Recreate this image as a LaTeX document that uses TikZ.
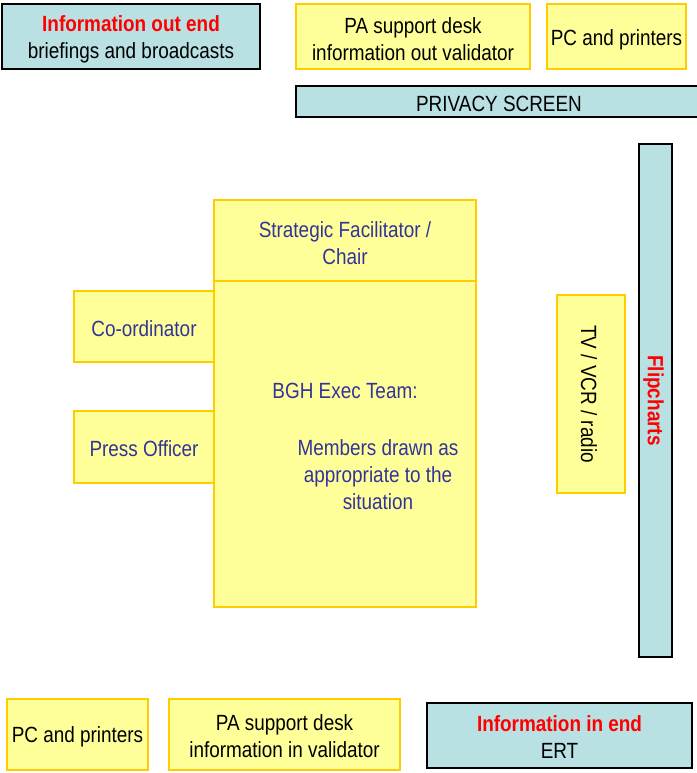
\documentclass[tikz,border=0pt]{standalone}
\usepackage{fontspec}
\setmainfont[FakeStretch=0.86]{Liberation Sans}
\begin{document}
\begin{tikzpicture}[x=1pt,y=-1pt,
  fs/.style={font=\fontsize{22}{27}\selectfont},
  tx/.style={fs,align=center,inner sep=0pt},
  yel/.style={draw={rgb,255:red,255;green,204;blue,0},fill={rgb,255:red,255;green,255;blue,153},line width=2.2pt,inner sep=0pt,outer sep=0pt},
  blu/.style={draw=black,fill={rgb,255:red,185;green,224;blue,227},line width=2.2pt,inner sep=0pt,outer sep=0pt},
  redt/.style={text={rgb,255:red,255;green,0;blue,0}},
  bluet/.style={text={rgb,255:red,51;green,51;blue,153}}]
\useasboundingbox (0,0) rectangle (696,773);
% top row
\node[blu,minimum width=258,minimum height=65] (outend) at (131,36.5) {};
\node[tx] (outendt) at ([yshift=-3]outend.center) {\textcolor{red}{\bfseries Information out end}\\briefings and broadcasts};
\node[yel,minimum width=234,minimum height=65] (pa1) at (413,36.5) {};
\node[tx] (pa1t) at ([yshift=-3]pa1.center) {PA support desk\\information out validator};
\node[yel,minimum width=139,minimum height=65] (pc1) at (616.5,36.5) {};
\node[tx] (pc1t) at ([yshift=-3]pc1.center) {PC and printers};
\node[blu,minimum width=402,minimum height=31,anchor=west] (priv) at (296,101.5) {};
\node[tx] (privt) at ([xshift=2,yshift=-2]priv.center) {PRIVACY SCREEN};
% right side
\node[blu,minimum width=33,minimum height=513] (flip) at (655.5,400.5) {};
\node[rotate=-90,redt,inner sep=0pt,font={\fontsize{22}{27}\selectfont\bfseries}] (fliptxt) at ([xshift=-2]flip.center) {Flipcharts};
\node[yel,minimum width=68,minimum height=198] (tv) at (591,394) {};
\node[rotate=-90,tx] (tvtxt) at ([xshift=-2]tv.center) {TV / VCR / radio};
% central
\node[yel,minimum width=262,minimum height=81] (chair) at (345,240.5) {};
\node[tx,bluet] (chairt) at ([yshift=-3]chair.center) {Strategic Facilitator /\\Chair};
\node[yel,minimum width=262,minimum height=326,anchor=north] (exec) at (chair.south) {};
\node[tx,bluet] (exect) at (345,391) {BGH Exec Team:};
\node[tx,bluet] (memb) at (378,475) {Members drawn as\\appropriate to the\\situation};
\node[yel,minimum width=140,minimum height=71] (coord) at (144,326.5) {};
\node[tx,bluet] (coordt) at ([yshift=-2]coord.center) {Co-ordinator};
\node[yel,minimum width=140,minimum height=72] (press) at (144,447) {};
\node[tx,bluet] (presst) at ([yshift=-2]press.center) {Press Officer};
% bottom row
\node[yel,minimum width=141,minimum height=71] (pc2) at (77.5,734.5) {};
\node[tx] (pc2t) at ([yshift=-2]pc2.center) {PC and printers};
\node[yel,minimum width=231,minimum height=71] (pa2) at (284.5,734.5) {};
\node[tx] (pa2t) at ([yshift=-2]pa2.center) {PA support desk\\information in validator};
\node[blu,minimum width=265,minimum height=65] (inend) at (559.5,735.5) {};
\node[tx] (inendt) at ([yshift=-2]inend.center) {\textcolor{red}{\bfseries Information in end}\\ERT};
\end{tikzpicture}
\end{document}
